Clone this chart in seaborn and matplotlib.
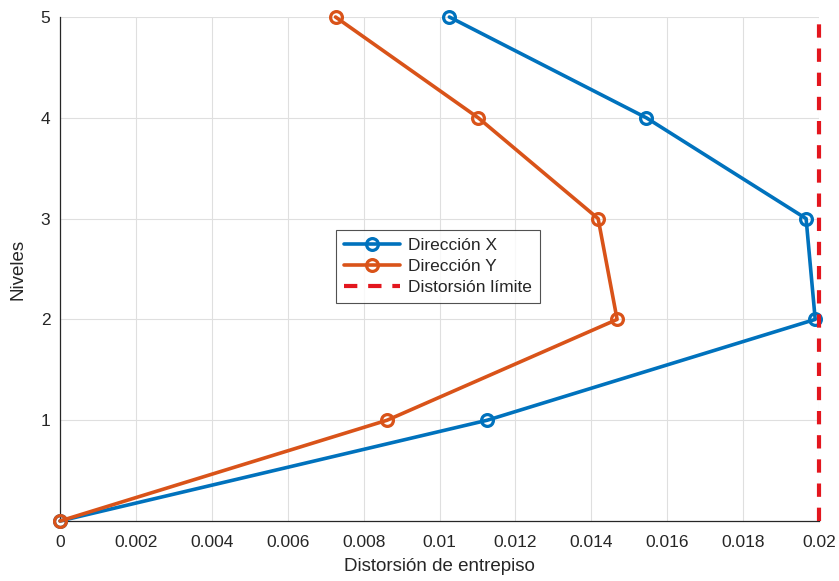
import matplotlib
matplotlib.use("Agg")
import matplotlib.pyplot as plt
import seaborn as sns
import pandas as pd

niveles = [0, 1, 2, 3, 4, 5]
dir_x = [0.0, 0.01126, 0.01990, 0.01966, 0.01545, 0.01026]
dir_y = [0.0, 0.00862, 0.01468, 0.01418, 0.01102, 0.00726]
limite = 0.02
x_ticks = [0, 0.002, 0.004, 0.006, 0.008, 0.01, 0.012, 0.014, 0.016, 0.018, 0.02]
x_tick_labels = ["0", "0.002", "0.004", "0.006", "0.008", "0.01", "0.012", "0.014", "0.016", "0.018", "0.02"]
y_ticks = [1, 2, 3, 4, 5]

sns.set_theme(style="whitegrid")
plt.rcParams['font.family'] = ['Liberation Sans', 'DejaVu Sans']

fig = plt.figure(figsize=(8.39, 5.81), dpi=100)
ax = fig.add_axes([60/839, 1-521/581, (819-60)/839, (521-17)/581])

blue = "#0072BD"
orange = "#D95319"
red = "#E3161E"

df = pd.DataFrame({"Nivel": niveles + niveles,
                   "Distorsion": dir_x + dir_y,
                   "Serie": ["Dirección X"]*6 + ["Dirección Y"]*6})

for name, col in [("Dirección X", blue), ("Dirección Y", orange)]:
    sub = df[df["Serie"] == name]
    sns.lineplot(data=sub, x="Distorsion", y="Nivel", sort=False, ax=ax,
                 color=col, linewidth=2.6, marker="o", markersize=8.5,
                 markeredgewidth=2.3, markerfacecolor="none", markeredgecolor=col,
                 label=name, clip_on=False, zorder=3)

ax.axvline(limite, color=red, linestyle=(0, (3.2, 2.6)), linewidth=3,
           label="Distorsión límite", zorder=4, clip_on=False)

ax.set_xlim(0, 0.02)
ax.set_ylim(0, 5)
ax.set_xticks(x_ticks)
ax.set_xticklabels(x_tick_labels)
ax.set_yticks(y_ticks)
ax.tick_params(axis="x", labelsize=12.5, colors="#262626", length=0, pad=10)
ax.tick_params(axis="y", labelsize=12.5, colors="#262626", length=0, pad=7)
ax.grid(True, color="#DFDFDF", linewidth=0.8)
for s in ["top", "right"]:
    ax.spines[s].set_visible(False)
for s in ["left", "bottom"]:
    ax.spines[s].set_color("#262626")
    ax.spines[s].set_linewidth(0.9)
ax.set_facecolor("white")

ax.set_xlabel("Distorsión de entrepiso", fontsize=13.5, color="#262626", labelpad=6)
ax.set_ylabel("Niveles", fontsize=13.5, color="#262626", labelpad=10)

leg = ax.legend(loc="lower left", bbox_to_anchor=(0.364, 0.432), fontsize=12.5,
                frameon=True, fancybox=False, edgecolor="#262626",
                handlelength=3.2, borderpad=0.45, labelspacing=0.35, handletextpad=0.5,
                borderaxespad=0)
leg.get_frame().set_linewidth(0.8)

fig.savefig("out.png", dpi=100)
